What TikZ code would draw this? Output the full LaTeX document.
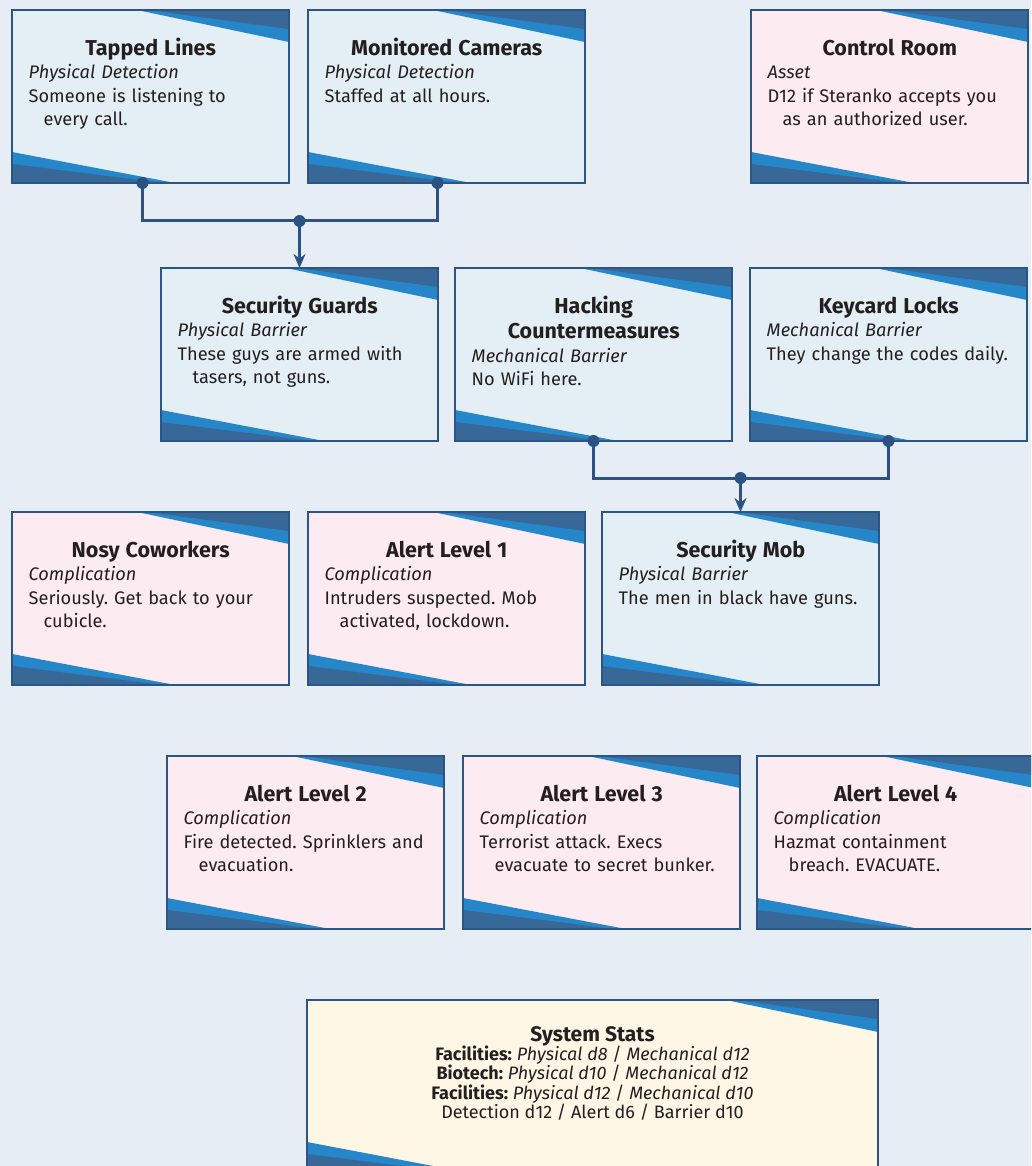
\documentclass[tikz,border=0pt]{standalone}
\usepackage{fontspec}
\setmainfont{Fira Sans}
\usetikzlibrary{calc,arrows.meta}
\definecolor{bgpaper}{HTML}{E6EDF4}
\definecolor{cardblue}{HTML}{E4EEF5}
\definecolor{cardpink}{HTML}{FCEBF0}
\definecolor{cardcream}{HTML}{FEF7E6}
\definecolor{decodark}{HTML}{386898}
\definecolor{decobright}{HTML}{2586CA}
\definecolor{edgeblue}{HTML}{2C5587}
\definecolor{wireblue}{HTML}{2B5283}
\definecolor{ink}{HTML}{231F20}
\tikzset{
  cardbg/.style={minimum height=173pt, anchor=north west, inner sep=0pt, outer sep=0pt},
  cardedge/.style={draw=edgeblue, line width=1.8pt},
  cardtext/.style={anchor=north west, inner sep=0pt, text width=244pt, text=ink,
    font=\fontsize{18.2}{23.5}\selectfont\frenchspacing},
  statstext/.style={anchor=north, inner sep=0pt, align=center, text=ink,
    font=\fontsize{18}{19.3}\selectfont\frenchspacing},
  wire/.style={draw=wireblue, line width=3pt},
  wirearrow/.style={wire, -{Stealth[length=14pt,width=12pt]}},
  joint/.style={circle, fill=wireblue, inner sep=0pt, minimum size=12pt},
}
% #1 name, #2 x, #3 y, #4 width, #5 fill
\newcommand\mkcardbox[5]{%
  \node[cardbg, fill=#5, minimum width=#4pt] (#1) at (#2,#3) {};
  \fill[decobright] ($(#1.north east)+(-152,0)$) -- (#1.north east) -- ($(#1.north east)+(0,32)$) -- cycle;
  \fill[decodark] ($(#1.north east)+(-141,0)$) -- (#1.north east) -- ($(#1.north east)+(0,19)$) -- cycle;
  \fill[decobright] ($(#1.south west)+(0,-31)$) -- (#1.south west) -- ($(#1.south west)+(163,0)$) -- cycle;
  \fill[decodark] ($(#1.south west)+(0,-19)$) -- (#1.south west) -- ($(#1.south west)+(151,0)$) -- cycle;
  \draw[cardedge] (#1.north west) rectangle (#1.south east);
}
% #1 name, #2 x, #3 y, #4 fill, #5 title, #6 subtitle, #7 body line 1, #8 body line 2
\newcommand\mkcard[8]{%
  \mkcardbox{#1}{#2}{#3}{277}{#4}
  \node[cardtext] (#1-txt) at ($(#1.north west)+(16.5,25)$)
    {{\centering\bfseries\fontsize{21.5}{25.5}\selectfont\rule{0pt}{20pt}#5\par}
     {\itshape #6\par}
     #7\par
     \hspace*{15pt}#8\par};
}
\begin{document}
\begin{tikzpicture}[x=1pt,y=-1pt]
\useasboundingbox (0,0) rectangle (1031,1166);
\clip (0,0) rectangle (1031,1166);
\fill[bgpaper] (0,0) rectangle (1031,1166);

% row 1
\mkcard{tl}{12}{10}{cardblue}{Tapped Lines}{Physical Detection}{Someone is listening to}{every call.}
\mkcard{mc}{308}{10}{cardblue}{Monitored Cameras}{Physical Detection}{Staffed at all hours.}{}
\mkcard{cr}{751}{10}{cardpink}{Control Room}{Asset}{D12 if Steranko accepts you}{as an authorized user.}
% row 2
\mkcard{sg}{161}{268}{cardblue}{Security Guards}{Physical Barrier}{These guys are armed with}{tasers, not guns.}
\mkcard{hc}{455}{268}{cardblue}{Hacking\\Countermeasures}{Mechanical Barrier}{No WiFi here.}{}
\mkcard{kl}{750}{268}{cardblue}{Keycard Locks}{Mechanical Barrier}{They change the codes daily.}{}
% row 3
\mkcard{nc}{12}{512}{cardpink}{Nosy Coworkers}{Complication}{Seriously. Get back to your}{cubicle.}
\mkcard{al1}{308}{512}{cardpink}{Alert Level 1}{Complication}{Intruders suspected. Mob}{activated, lockdown.}
\mkcard{sm}{602}{512}{cardblue}{Security Mob}{Physical Barrier}{The men in black have guns.}{}
% row 4
\mkcard{al2}{167}{756}{cardpink}{Alert Level 2}{Complication}{Fire detected. Sprinklers and}{evacuation.}
\mkcard{al3}{463}{756}{cardpink}{Alert Level 3}{Complication}{Terrorist attack. Execs}{evacuate to secret bunker.}
\mkcard{al4}{757}{756}{cardpink}{Alert Level 4}{Complication}{Hazmat containment}{breach. EVACUATE.}
% stats
\mkcardbox{ss}{307}{1000}{571}{cardcream}
\node[statstext] (ss-txt) at ($(ss.north)+(0,22)$)
  {{\bfseries\fontsize{21}{19.3}\selectfont\rule{0pt}{19pt}System Stats}\\
   \textbf{Facilities:} \textit{Physical d8} / \textit{Mechanical d12}\\
   \textbf{Biotech:} \textit{Physical d10} / \textit{Mechanical d12}\\
   \textbf{Facilities:} \textit{Physical d12} / \textit{Mechanical d10}\\
   Detection d12 / Alert d6 / Barrier d10};

% connectors row 1 -> security guards
\coordinate (tlA) at ($(tl.south)+(-8,0)$);
\coordinate (mcA) at ($(mc.south)+(-9,0)$);
\coordinate (j1) at ($(sg.north)+(0,-47)$);
\draw[wire] (tlA) |- (j1) -| (mcA);
\draw[wirearrow] (j1) -- (sg.north);
\node[joint] at (tlA) {};
\node[joint] at (mcA) {};
\node[joint] at (j1) {};
% connectors row 2 -> security mob
\coordinate (hcA) at (hc.south);
\coordinate (klA) at (kl.south);
\coordinate (j2) at ($(sm.north)+(0,-34)$);
\draw[wire] (hcA) |- (j2) -| (klA);
\draw[wirearrow] (j2) -- (sm.north);
\node[joint] at (hcA) {};
\node[joint] at (klA) {};
\node[joint] at (j2) {};
\end{tikzpicture}
\end{document}
